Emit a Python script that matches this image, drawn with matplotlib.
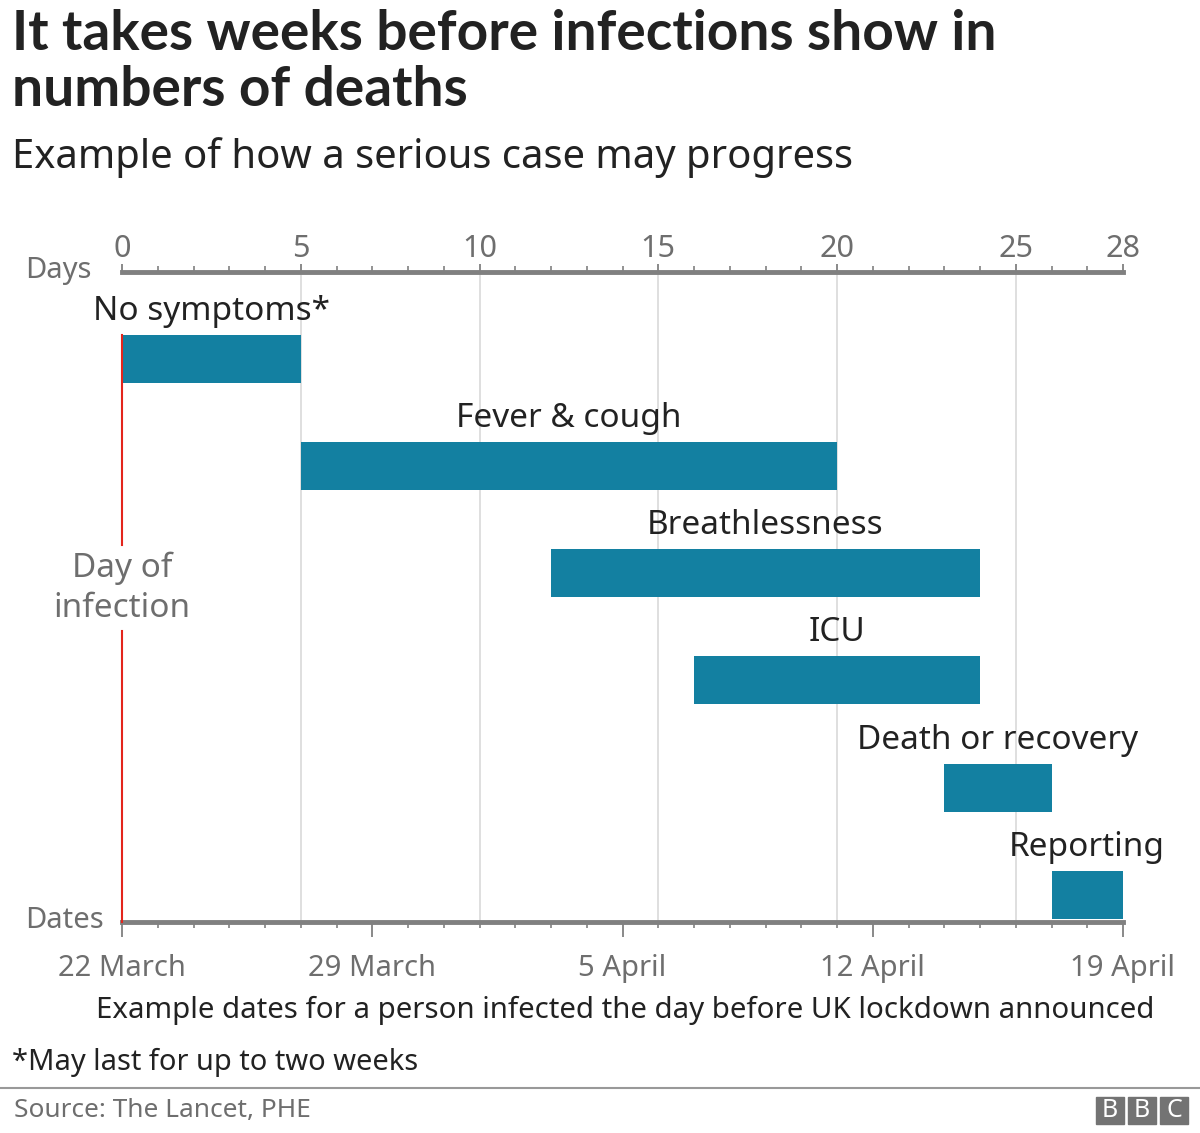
import matplotlib.pyplot as plt
from matplotlib.patches import Rectangle

plt.rcParams['font.family'] = ['Noto Sans', 'DejaVu Sans']

# stages of a serious case, in days after infection
stages = ["No symptoms*", "Fever & cough", "Breathlessness", "ICU",
          "Death or recovery", "Reporting"]
start_day = [0, 5, 12, 16, 23, 26]
end_day = [5, 20, 24, 24, 26, 28]

day_ticks = [0, 5, 10, 15, 20, 25, 28]
date_ticks = [0, 7, 14, 21, 28]
date_labels = ["22 March", "29 March", "5 April", "12 April", "19 April"]

BAR = "#1380a1"
GREY = "#6e6e6e"
AXIS = "#808080"
W, H = 1200, 1133


def fx(px):
    return px / W


def fy(py):
    return 1 - py / H


fig = plt.figure(figsize=(12, 11.33), dpi=100)
ax = fig.add_axes([fx(122), fy(922), fx(1123) - fx(122), fy(272) - fy(922)])

ax.set_xlim(0, 28)
ax.set_ylim(5.254, -0.812)

# light vertical gridlines
for d in [5, 10, 15, 20, 25]:
    ax.axvline(d, color="#dcdcdc", lw=1.3, zorder=0)

# day of infection marker, broken by its label
ax.plot([0, 0], [-0.22, 1.74], color="#e3251c", lw=1.5, zorder=3, clip_on=False)
ax.plot([0, 0], [2.54, 5.254], color="#e3251c", lw=1.5, zorder=3, clip_on=False)
ax.text(0, 2.14, "Day of\ninfection", ha="center", va="center", fontsize=24,
        color=GREY, linespacing=1.25)

bar_h = 0.448
for i, (name, s, e) in enumerate(zip(stages, start_day, end_day)):
    ax.barh(i, e - s, left=s, height=bar_h, color=BAR, zorder=2)
    ax.text((s + e) / 2, i - bar_h / 2 - 0.14, name, ha="center", va="baseline",
            fontsize=24, color="#222222")

for side in ["left", "right", "top"]:
    ax.spines[side].set_visible(False)
ax.spines["bottom"].set_color(AXIS)
ax.spines["bottom"].set_linewidth(3.5)
ax.set_yticks([])

# dates along the bottom
ax.set_xticks(date_ticks)
ax.set_xticklabels(date_labels)
ax.set_xticks(range(29), minor=True)
ax.tick_params(axis="x", which="major", length=11, width=1.3, color=AXIS,
               labelsize=21, labelcolor=GREY, pad=12)
ax.tick_params(axis="x", which="minor", length=4, width=1.2, color=AXIS)

# days along the top
top = ax.secondary_xaxis("top")
top.set_xticks(day_ticks)
top.set_xticklabels([str(d) for d in day_ticks])
top.set_xticks(range(29), minor=True)
top.spines["top"].set_color(AXIS)
top.spines["top"].set_linewidth(3.5)
top.tick_params(axis="x", which="major", length=6, width=1.3, color=AXIS,
                labelsize=22, labelcolor=GREY, pad=0)
top.tick_params(axis="x", which="minor", length=4, width=1.2, color=AXIS)

fig.text(fx(92), fy(270), "Days", ha="right", va="center", fontsize=21, color=GREY)
fig.text(fx(104), fy(920), "Dates", ha="right", va="center", fontsize=21, color=GREY)

fig.text(fx(625), fy(1010), "Example dates for a person infected the day before UK lockdown announced",
         ha="center", va="center", fontsize=21.2, color="#222222")

# titles
fig.text(fx(12), fy(50), "It takes weeks before infections show in", fontsize=39.6,
         family="Lato", fontweight="bold", color="#222222", va="baseline")
fig.text(fx(12), fy(106), "numbers of deaths", fontsize=39.6,
         family="Lato", fontweight="bold", color="#222222", va="baseline")
fig.text(fx(12), fy(168), "Example of how a serious case may progress", fontsize=28.8,
         color="#222222", va="baseline")

# footer
fig.text(fx(12), fy(1062), "*May last for up to two weeks", fontsize=20.9,
         color="#222222", va="center")
fig.add_artist(plt.Line2D([0, 1], [fy(1088), fy(1088)], color="#999999", lw=1.5))
fig.text(fx(14), fy(1110), "Source: The Lancet, PHE", fontsize=18.9,
         color=GREY, va="center")
for k, letter in enumerate("BBC"):
    x0 = 1096 + k * 32
    fig.add_artist(Rectangle((fx(x0), fy(1124)), fx(28), 27 / H, color="#737373",
                             transform=fig.transFigure))
    fig.text(fx(x0 + 14), fy(1110.5), letter, ha="center", va="center",
             fontsize=18, fontweight="bold", color="white")

fig.savefig("out.png", dpi=100)
